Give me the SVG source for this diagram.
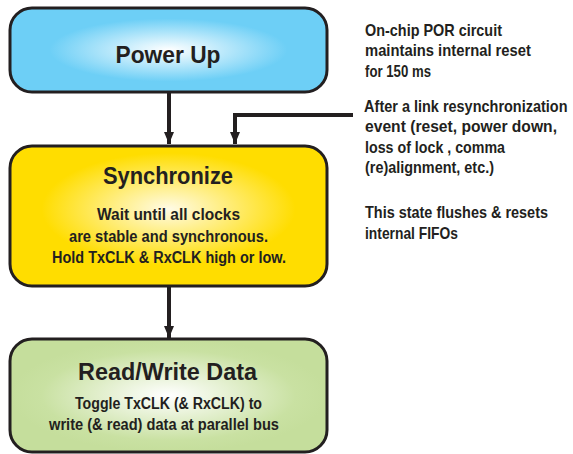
<svg xmlns="http://www.w3.org/2000/svg" width="573" height="454" viewBox="0 0 573 454">
  <defs>
    <radialGradient id="gBlue" cx="0.5" cy="0.5" r="0.5">
      <stop offset="0" stop-color="#ffffff"/>
      <stop offset="0.75" stop-color="#6dcff6"/>
      <stop offset="1" stop-color="#6dcff6"/>
    </radialGradient>
    <radialGradient id="gYellow" cx="0.5" cy="0.45" r="0.5">
      <stop offset="0" stop-color="#fffbe6"/>
      <stop offset="0.8" stop-color="#ffdd00"/>
      <stop offset="1" stop-color="#ffdd00"/>
    </radialGradient>
    <radialGradient id="gGreen" cx="0.5" cy="0.5" r="0.5">
      <stop offset="0" stop-color="#ffffff"/>
      <stop offset="0.8" stop-color="#c9e1a2"/>
      <stop offset="1" stop-color="#c5de9c"/>
    </radialGradient>
    <marker id="arrow" viewBox="0 0 12 10" refX="12" refY="5" markerWidth="12" markerHeight="10" markerUnits="userSpaceOnUse" orient="auto">
      <path d="M0,0 L12,5 L0,10 Z" fill="#231f20"/>
    </marker>
    <style>
      .box { stroke: #231f20; stroke-width: 3; }
      .title { font-family: "Liberation Sans Narrow", "Liberation Sans", Arial, sans-serif; font-weight: bold; font-size: 24px; fill: #231f20; text-anchor: middle; }
      .body { font-family: "Liberation Sans Narrow", "Liberation Sans", Arial, sans-serif; font-weight: bold; font-size: 16px; fill: #231f20; text-anchor: middle; }
      .note { font-family: "Liberation Sans Narrow", "Liberation Sans", Arial, sans-serif; font-weight: bold; font-size: 16px; fill: #231f20; }
      .conn { stroke: #231f20; stroke-width: 4; fill: none; }
    </style>
  </defs>

  <g id="connectors">
    <line class="conn" x1="169" y1="92" x2="169" y2="144" marker-end="url(#arrow)"/>
    <polyline class="conn" points="353,115 235,115 235,144" marker-end="url(#arrow)"/>
    <line class="conn" x1="169" y1="287" x2="169" y2="338" marker-end="url(#arrow)"/>
  </g>

  <g id="power-up">
    <rect class="box" x="10" y="8" width="317" height="84" rx="22" ry="22" fill="url(#gBlue)"/>
    <text class="title" x="168" y="62.5" textLength="105" lengthAdjust="spacingAndGlyphs">Power Up</text>
  </g>

  <g id="synchronize">
    <rect class="box" x="10" y="146" width="317" height="140" rx="22" ry="22" fill="url(#gYellow)"/>
    <text class="title" x="168" y="184" textLength="130" lengthAdjust="spacingAndGlyphs">Synchronize</text>
    <text class="body" x="168.5" y="219.5" textLength="143" lengthAdjust="spacingAndGlyphs">Wait until all clocks</text>
    <text class="body" x="168.5" y="241.5" textLength="199" lengthAdjust="spacingAndGlyphs">are stable and synchronous.</text>
    <text class="body" x="169" y="263" textLength="234" lengthAdjust="spacingAndGlyphs">Hold TxCLK &amp; RxCLK high or low.</text>
  </g>

  <g id="read-write-data">
    <rect class="box" x="10" y="339" width="317" height="113" rx="22" ry="22" fill="url(#gGreen)"/>
    <text class="title" x="167.5" y="380" textLength="179" lengthAdjust="spacingAndGlyphs">Read/Write Data</text>
    <text class="body" x="168.5" y="408.5" textLength="187" lengthAdjust="spacingAndGlyphs">Toggle TxCLK (&amp; RxCLK) to</text>
    <text class="body" x="164" y="430" textLength="230" lengthAdjust="spacingAndGlyphs">write (&amp; read) data at parallel bus</text>
  </g>

  <g id="notes" transform="matrix(0.9,0,0,1,365,0)">
    <text class="note" x="0" y="36" textLength="152.2" lengthAdjust="spacingAndGlyphs">On-chip POR circuit</text>
    <text class="note" x="0" y="56.5" textLength="184.4" lengthAdjust="spacingAndGlyphs">maintains internal reset</text>
    <text class="note" x="0" y="77" textLength="73.3" lengthAdjust="spacingAndGlyphs">for 150 ms</text>
    <text class="note" x="-1" y="112" textLength="226" lengthAdjust="spacingAndGlyphs">After a link resynchronization</text>
    <text class="note" x="0" y="132.5" textLength="213.3" lengthAdjust="spacingAndGlyphs">event (reset, power down,</text>
    <text class="note" x="0" y="153" textLength="155.6" lengthAdjust="spacingAndGlyphs">loss of lock , comma</text>
    <text class="note" x="0" y="173.5" textLength="143.3" lengthAdjust="spacingAndGlyphs">(re)alignment, etc.)</text>
    <text class="note" x="0" y="218" textLength="203.3" lengthAdjust="spacingAndGlyphs">This state flushes &amp; resets</text>
    <text class="note" x="0" y="239" textLength="103.3" lengthAdjust="spacingAndGlyphs">internal FIFOs</text>
  </g>
</svg>
